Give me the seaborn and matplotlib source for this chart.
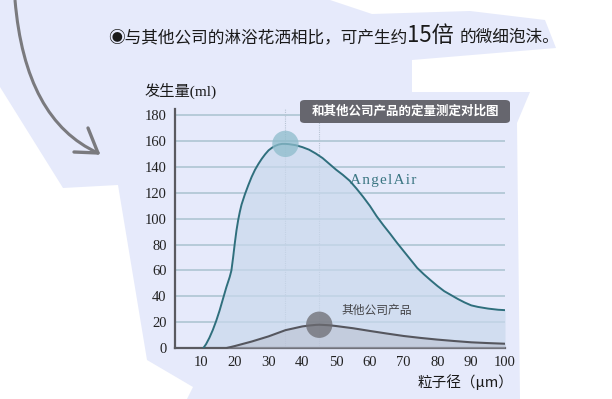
import numpy as np
import pandas as pd
import matplotlib
matplotlib.use('Agg')
import matplotlib.pyplot as plt
from matplotlib.patches import Polygon, FancyBboxPatch, PathPatch
from matplotlib.path import Path
import seaborn as sns

# particle size (um) vs. amount generated (ml)
angel_x = [10.7, 11.5, 12.5, 13.5, 14.5, 15.5, 16.5, 17.5, 18.5, 19, 19.5, 20, 20.5,
           21, 21.5, 22, 23, 24, 25, 26, 27, 28, 29, 30, 31, 32, 33, 34, 35, 36,
           38, 40, 42, 44, 46, 48, 50, 52, 54, 56, 58, 60, 62, 64, 66, 68, 70,
           72, 74, 76, 78, 80, 82, 84, 86, 88, 90, 92, 95, 98, 100]
angel_y = [0, 3, 8, 14, 21, 29, 38, 47, 55, 60, 70, 81, 91,
           99, 105.5, 111, 119, 126, 132.5, 138, 142.5, 146.5, 150, 153, 155, 156.5, 157.5, 158, 158, 157.8,
           157, 155.5, 153.5, 150.5, 147, 142.5, 138, 134, 129.5, 123.5, 117, 110, 102, 95, 88.4, 81.5, 75,
           68.5, 62, 57, 52.4, 48, 44, 41, 38, 35.3, 33, 31.8, 30.5, 29.6, 29.3]

other_x = [17.6, 20, 25, 30, 35, 40, 42, 44, 45, 46, 48, 50, 55, 60, 65, 70, 75,
           80, 85, 90, 95, 100]
other_y = [0, 1.5, 5, 9, 13.8, 16.7, 17.4, 17.9, 18, 17.9, 17.6, 17, 15.3, 13.2,
           11.2, 9.3, 7.8, 6.5, 5.4, 4.4, 3.8, 3.3]

peak_x = [35, 45]
peak_y = [158, 18]

x_ticks = [10, 20, 30, 40, 50, 60, 70, 80, 90, 100]
y_ticks = [0, 20, 40, 60, 80, 100, 120, 140, 160, 180]

TITLE_A = '◉与其他公司的淋浴花洒相比，可产生约'
TITLE_B = '15倍'
TITLE_C = '的微细泡沫。'
BOX_TEXT = '和其他公司产品的定量测定对比图'

sns.set_style('white')
plt.rcParams['font.family'] = ['Noto Sans CJK SC', 'DejaVu Sans']

W, H = 612, 399


def fx(px):
    return px / W


def fy(py):
    return 1 - py / H


fig = plt.figure(figsize=(W / 100, H / 100), dpi=100, facecolor='white')

# lavender paper background
bg = [(0, 0), (330, 0), (372, 14), (470, 11), (545, 20), (556, 48), (412, 60),
      (412, 92), (530, 92), (517, 123), (520, 399), (187, 399), (193, 387),
      (147, 360), (118, 185), (63, 188), (0, 87)]
fig.patches.append(Polygon([(fx(a), fy(b)) for a, b in bg], closed=True,
                           transform=fig.transFigure, facecolor='#e6eafb',
                           edgecolor='none', zorder=-5))

# curved arrow
arrow = Path([(fx(15), fy(0)), (fx(25), fy(120)), (fx(98), fy(153))],
             [Path.MOVETO, Path.CURVE3, Path.CURVE3])
fig.patches.append(PathPatch(arrow, transform=fig.transFigure, fill=False,
                             edgecolor='#7a7a7e', lw=2.2, zorder=-4))
for hx, hy in [(88, 128), (74, 152)]:
    fig.lines.append(plt.Line2D([fx(hx), fx(98)], [fy(hy), fy(153)],
                                transform=fig.transFigure, color='#7a7a7e',
                                lw=2.4, solid_capstyle='round', zorder=-4))

ax = fig.add_axes([fx(175), fy(348), (505 - 175) / W, (348 - 109) / H])
ax.set_facecolor('none')

angel = pd.DataFrame({'x': angel_x, 'y': angel_y})
other = pd.DataFrame({'x': other_x, 'y': other_y})

for v in y_ticks[1:]:
    ax.axhline(v, color='#b3c8d6', lw=1.3, zorder=1)
for v in peak_x:
    ax.axvline(v, color='#b8c4d4', lw=0.8, ls=(0, (1, 1)), zorder=1)

ax.fill_between(angel['x'], angel['y'], color='#c9d8ec', alpha=0.7, lw=0, zorder=2)
ax.fill_between(other['x'], other['y'], color='#b7bccc', alpha=0.5, lw=0, zorder=3)
sns.lineplot(data=angel, x='x', y='y', ax=ax, color='#2f6f7d', lw=1.4,
             sort=False, zorder=4)
sns.lineplot(data=other, x='x', y='y', ax=ax, color='#55565e', lw=1.5,
             sort=False, zorder=4)
sns.scatterplot(x=peak_x, y=peak_y, ax=ax, s=360, hue=[0, 1], legend=False,
                palette=['#8dbccb', '#6c6c72'], alpha=0.75, lw=0, zorder=5)

ax.set_xlim(2.3, 100)
ax.set_ylim(0, 185)
ax.set_xticks(x_ticks)
ax.set_yticks(y_ticks)
ax.set_xlabel('')
ax.set_ylabel('')
ax.tick_params(length=0, pad=6, labelsize=10.5, colors='#222222')
for lab in ax.get_xticklabels() + ax.get_yticklabels():
    lab.set_family('Liberation Serif')
for side in ['top', 'right']:
    ax.spines[side].set_visible(False)
for side in ['left', 'bottom']:
    ax.spines[side].set_color('#5a5a60')
    ax.spines[side].set_linewidth(1.6)

ax.text(64, 130, 'A n g e l A i r'.replace(' ', '\u200a'), family='Liberation Serif',
        fontsize=11, color='#3b7683', ha='center', va='center')
ax.text(62, 29, '其他公司产品', fontsize=8.5, color='#444448',
        ha='center', va='center')

# headline
fig.text(fx(108), fy(42), TITLE_A, fontsize=12, color='#1a1a1a', va='baseline')
fig.text(fx(407), fy(42), TITLE_B, fontsize=16, color='#1a1a1a', va='baseline')
fig.text(fx(460), fy(42), TITLE_C, fontsize=12, color='#1a1a1a', va='baseline')

# axis captions
fig.text(fx(145), fy(91), '发生量(ml)', family=['Liberation Serif', 'Noto Sans CJK SC'],
         fontsize=11, color='#1a1a1a', va='center')
fig.text(fx(513), fy(382), '粒子径（μm）', family=['Noto Sans CJK SC', 'DejaVu Sans'],
         fontsize=10.5, color='#1a1a1a', ha='right', va='center')

# caption box
fig.patches.append(FancyBboxPatch((fx(300), fy(123)), (510 - 300) / W, 23 / H,
                                  boxstyle='round,pad=0,rounding_size=0.008',
                                  transform=fig.transFigure, facecolor='#66666e',
                                  edgecolor='none', zorder=6))
fig.text(fx(405), fy(111.5), BOX_TEXT, fontsize=9, color='white',
         fontweight='bold', ha='center', va='center', zorder=7)

fig.savefig('out.png', dpi=100)
